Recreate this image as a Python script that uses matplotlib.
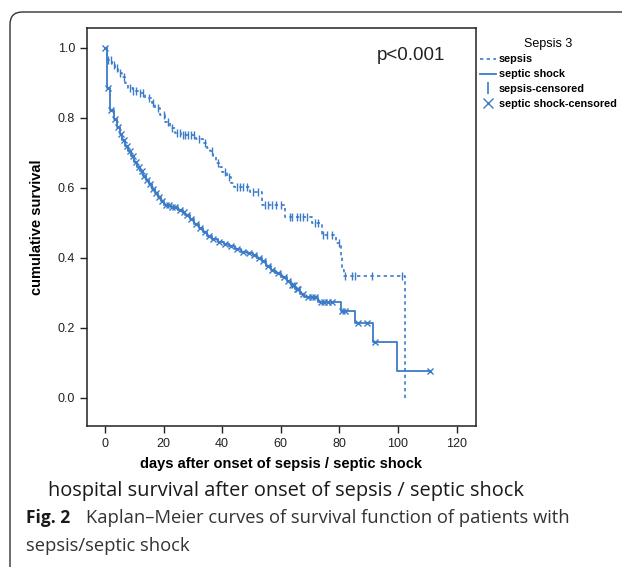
import numpy as np
import matplotlib
matplotlib.use("Agg")
import matplotlib.pyplot as plt
from matplotlib.lines import Line2D
from matplotlib.patches import FancyBboxPatch

# Kaplan-Meier step values (days, cumulative survival)
sepsis_t = [0, 0.7, 2.4, 3.4, 4.4, 5.8, 7, 7.8, 9.5, 11.3, 13.7, 16, 17, 18.8, 20.5,
            22.2, 23.9, 26, 31, 33.5, 35, 36, 37, 38, 39, 40, 41.5, 43, 44, 49.5,
            53.6, 61.4, 70.6, 74, 79, 80.5, 81, 81.6, 102.4]
sepsis_s = [1.0, 0.966, 0.951, 0.943, 0.929, 0.917, 0.9, 0.886, 0.878, 0.871, 0.857,
            0.843, 0.829, 0.809, 0.789, 0.771, 0.757, 0.75, 0.74, 0.729, 0.715, 0.705,
            0.69, 0.672, 0.66, 0.646, 0.632, 0.615, 0.603, 0.589, 0.55, 0.517, 0.5,
            0.466, 0.443, 0.403, 0.366, 0.349, 0.0]
sepsis_cens = [1.2, 2, 3, 4, 5, 6.5, 8.5, 9.5, 10.5, 12, 13, 15, 16.5, 18, 20, 21.5,
               23, 24.5, 25.5, 26.5, 27.5, 28.5, 29.5, 30.5, 32, 34, 36.5, 38.5, 41,
               42.5, 45, 46, 47, 48.5, 50.5, 52.2, 54.5, 55.5, 57, 58.5, 60, 63, 64,
               65.5, 66.5, 67.5, 68.9, 71.7, 72.7, 74.4, 75.8, 77.5, 80, 81.9, 84.3,
               85.3, 91.1, 101.4]

shock_t = [0, 0.7, 1.6, 3, 4, 5, 6, 7, 8, 9, 10, 11, 12, 13, 14, 15, 16, 17, 18, 19,
           20, 22.5, 25, 26.5, 27.5, 29, 30.5, 32, 33.5, 35, 36.5, 38.5, 40.5, 42.5,
           44.5, 46.5, 48.5, 50.5, 52, 53.5, 55, 56.5, 58, 60, 62, 63.5, 65, 66.5,
           68, 72.7, 80.5, 85.3, 91.5, 99.6]
shock_s = [1.0, 0.886, 0.823, 0.797, 0.775, 0.755, 0.737, 0.72, 0.705, 0.69, 0.675,
           0.66, 0.648, 0.635, 0.622, 0.61, 0.598, 0.586, 0.574, 0.562, 0.552, 0.546,
           0.538, 0.53, 0.522, 0.51, 0.498, 0.486, 0.475, 0.463, 0.455, 0.446, 0.44,
           0.434, 0.427, 0.418, 0.413, 0.408, 0.401, 0.39, 0.378, 0.366, 0.357, 0.347,
           0.335, 0.322, 0.31, 0.297, 0.289, 0.274, 0.249, 0.214, 0.16, 0.077]
shock_cens = [0.2, 1, 2, 3.5, 4.5, 5.5, 6.5, 7.5, 8.5, 9.5, 10.5, 11.5, 12.5, 13.5,
              14.5, 15.5, 16.5, 17.5, 18.5, 19.5, 21, 22, 23, 24, 25.5, 27, 28, 29.5,
              31, 32.5, 34, 35.5, 37, 39, 41, 43, 45, 47, 49, 51, 52.5, 54, 55.5, 57,
              59, 61, 62.5, 64, 64.5, 65.5, 66, 67.6, 69.3, 70.6, 71.7, 73.8, 74.9,
              76, 77.6, 81, 82, 86.3, 89.4, 92.2, 111]

xticks = [0, 20, 40, 60, 80, 100, 120]
yticks = [0.0, 0.2, 0.4, 0.6, 0.8, 1.0]

blue = "#3b7bc8"
W, H = 622, 567

plt.rcParams["font.family"] = ["Liberation Sans", "DejaVu Sans"]
fig = plt.figure(figsize=(W / 100, H / 100), dpi=100)
ax = fig.add_axes([87 / W, 1 - 426 / H, (476 - 87) / W, (426 - 28) / H])


def surv_at(t, s, c):
    idx = np.searchsorted(t, c, side="right") - 1
    return np.asarray(s)[idx]


# sepsis curve (dotted)
ax.step(sepsis_t, sepsis_s, where="post", color=blue, lw=1.2, ls=(0, (2, 2)))
ax.plot(sepsis_cens, surv_at(sepsis_t, sepsis_s, sepsis_cens), ls="none",
        marker="|", ms=6, mew=1.0, color=blue)

# septic shock curve (solid), extended to last censored case
st = shock_t + [shock_cens[-1]]
ss = shock_s + [shock_s[-1]]
ax.step(st, ss, where="post", color=blue, lw=1.3)
ax.plot(shock_cens, surv_at(shock_t, shock_s, shock_cens), ls="none",
        marker="x", ms=4, mew=1.0, color=blue)

ax.set_xlim(-6.1, 126.6)
ax.set_ylim(-0.08, 1.057)
ax.set_xticks(xticks)
ax.set_yticks(yticks)
ax.set_xticklabels([str(v) for v in xticks])
ax.set_yticklabels(["%.1f" % v for v in yticks])
ax.tick_params(direction="out", length=5, width=1, labelsize=9, colors="#222222")
for sp in ax.spines.values():
    sp.set_linewidth(1.1)
    sp.set_color("#222222")

ax.set_xlabel("days after onset of sepsis / septic shock", fontsize=10.5,
              fontweight="bold", labelpad=5)
ax.set_ylabel("cumulative survival", fontsize=10.5, fontweight="bold", labelpad=10)
ax.text((411 - 87) / (476 - 87), (426 - 55) / (426 - 28), "p<0.001",
        transform=ax.transAxes, fontsize=13.5, ha="center", va="center",
        color="#222222")

# legend outside the axes
handles = [
    Line2D([], [], color=blue, ls=(0, (2, 2)), lw=1.2),
    Line2D([], [], color=blue, ls="-", lw=1.3),
    Line2D([], [], color=blue, ls="none", marker="|", ms=8, mew=1.2),
    Line2D([], [], color=blue, ls="none", marker="x", ms=7, mew=1.0),
]
labels = ["sepsis", "septic shock", "sepsis-censored", "septic shock-censored"]
leg = fig.legend(handles, labels, title="Sepsis 3", loc="upper left",
                 bbox_to_anchor=(472 / W, 1 - 30 / H), frameon=False,
                 prop={"size": 7.8, "weight": "bold"}, title_fontsize=9,
                 handlelength=1.5, handletextpad=0.25, labelspacing=0.45,
                 borderpad=0.2)

# outer rounded frame
frame = FancyBboxPatch((10 / W, -0.05), 1.2, 1 - 12 / H + 0.05,
                       boxstyle="round,pad=0,rounding_size=0.02",
                       mutation_aspect=W / H, transform=fig.transFigure,
                       fill=False, lw=1.0, ec="#333333")
fig.patches.append(frame)

cap = ["Open Sans", "DejaVu Sans"]
fig.text(48 / W, 1 - 491 / H, "hospital survival after onset of sepsis / septic shock",
         fontsize=14.4, family=cap, va="center", ha="left", color="#1a1a1a")
fig.text(26 / W, 1 - 518 / H, "Fig. 2", fontsize=12.5, family=cap, fontweight="bold",
         va="center", ha="left", color="#1a1a1a")
fig.text(86 / W, 1 - 518 / H, "Kaplan\u2013Meier curves of survival function of patients with",
         fontsize=13.2, family=cap, va="center", ha="left", color="#333333")
fig.text(26 / W, 1 - 546 / H, "sepsis/septic shock", fontsize=13.2, family=cap,
         va="center", ha="left", color="#333333")

fig.savefig("out.png", dpi=100)
